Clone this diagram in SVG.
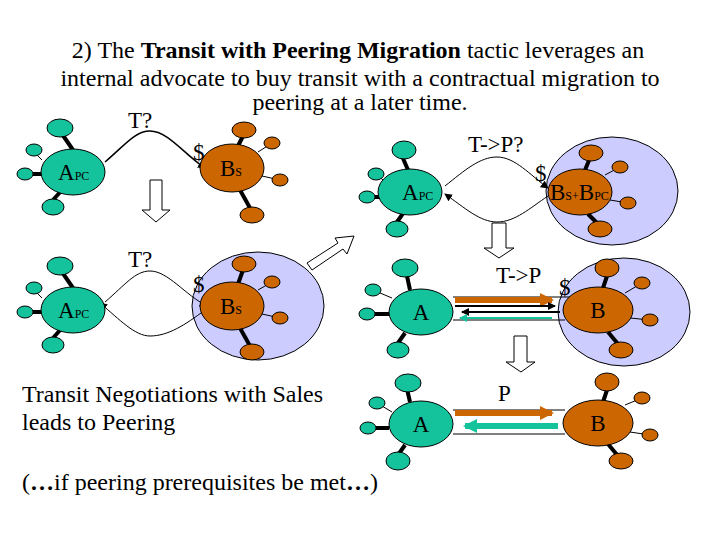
<svg xmlns="http://www.w3.org/2000/svg" width="720" height="540" viewBox="0 0 720 540">
<style>
text{font-family:"Liberation Serif","DejaVu Serif",serif;fill:#000}
.t{font-size:24px}
.g{fill:#14C39C;stroke:#000;stroke-width:1}
.o{fill:#CC6600;stroke:#000;stroke-width:1}
.lav{fill:#CCCCFF;stroke:#000;stroke-width:1}
.k{stroke:#000;stroke-width:4}
.k1{stroke:#000;stroke-width:1}
.c{fill:none;stroke:#000;stroke-width:1}
.ha{fill:#fff;stroke:#000;stroke-width:1}
.lbl{font-size:23px}
.sm{font-size:12px}
</style>
<defs>
<marker id="ah" markerWidth="8" markerHeight="8" refX="7" refY="4" orient="auto" markerUnits="userSpaceOnUse"><path d="M0,0L8,4L0,8z" fill="#000"/></marker>
<marker id="ao" markerWidth="14" markerHeight="14" refX="12" refY="7" orient="auto" markerUnits="userSpaceOnUse"><path d="M0,0L14,7L0,14z" fill="#CC6600"/></marker>
<marker id="ag" markerWidth="14" markerHeight="14" refX="12" refY="7" orient="auto" markerUnits="userSpaceOnUse"><path d="M0,0L14,7L0,14z" fill="#14C39C"/></marker>
<marker id="ag2" markerWidth="8" markerHeight="8" refX="7" refY="4" orient="auto" markerUnits="userSpaceOnUse"><path d="M0,0L8,4L0,8z" fill="#14C39C"/></marker>
</defs>
<rect width="720" height="540" fill="#fff"/>
<g id="title">
<text class="t" x="358" y="58" text-anchor="middle">2)   The <tspan font-weight="bold">Transit with Peering Migration</tspan> tactic leverages an</text>
<text class="t" x="360" y="86" text-anchor="middle">internal advocate to buy transit with a contractual migration to</text>
<text class="t" x="360" y="110" text-anchor="middle">peering at a later time.</text>
</g>
<g id="lavender">
<ellipse class="lav" cx="258" cy="306" rx="66" ry="54"/>
<ellipse class="lav" cx="612" cy="191" rx="66" ry="54"/>
<ellipse class="lav" cx="624" cy="312" rx="66" ry="54"/>
</g>
<g id="connectors">
<path class="c" style="stroke-width:1.5" d="M105,162 C125,145 135,131 150,131 C168,131 185,155 205,168" marker-end="url(#ah)"/>
<path class="c" d="M105,302 C125,285 135,271 150,271 C168,271 185,295 207,306" marker-end="url(#ah)"/>
<path class="c" d="M205,310 C185,325 168,336 150,336 C135,336 120,320 100,303" marker-end="url(#ah)"/>
<path class="c" d="M445,186 C465,170 480,157 497,157 C515,157 530,175 548,188" marker-end="url(#ah)"/>
<path class="c" d="M548,196 C530,208 515,222 497,222 C480,222 465,208 445,194" marker-end="url(#ah)"/>
<line class="k1" x1="453" y1="297" x2="570" y2="297"/>
<line class="k1" x1="453" y1="320" x2="565" y2="320"/>
<line x1="455" y1="300" x2="552" y2="300" stroke="#CC6600" stroke-width="6" marker-end="url(#ao)"/>
<line x1="455" y1="306" x2="555" y2="306" stroke="#000" stroke-width="2" marker-end="url(#ah)"/>
<line x1="560" y1="312" x2="462" y2="312" stroke="#000" stroke-width="2" marker-end="url(#ah)"/>
<line x1="552" y1="318" x2="460" y2="318" stroke="#14C39C" stroke-width="2" marker-end="url(#ag2)"/>
<line class="k1" x1="453" y1="410" x2="565" y2="410"/>
<line class="k1" x1="453" y1="434" x2="565" y2="434"/>
<line x1="455" y1="413" x2="552" y2="413" stroke="#CC6600" stroke-width="6" marker-end="url(#ao)"/>
<line x1="558" y1="426" x2="465" y2="426" stroke="#14C39C" stroke-width="6" marker-end="url(#ag)"/>
</g>
<g id="arrows">
<path class="ha" d="M150,180H162V210H170L156,222L142,210H150Z"/>
<path class="ha" d="M492,223H506V248H514L499,258L484,248H492Z"/>
<path class="ha" d="M514,336H527V362H535L521,372L506,362H514Z"/>
<path class="ha" d="M307,263L338,243L335,238L354,236L347,254L343,249L312,270Z"/>
</g>
<g id="n1">
<line class="k" x1="73" y1="150" x2="62" y2="134"/><line class="k1" x1="42" y1="160" x2="34" y2="152"/><line class="k" x1="33" y1="174" x2="42" y2="174"/><line class="k" x1="53" y1="200" x2="62" y2="190"/>
<ellipse class="g" cx="60" cy="128" rx="13" ry="9"/><ellipse class="g" cx="34" cy="150" rx="8" ry="6"/><ellipse class="g" cx="25" cy="174" rx="8" ry="6"/><ellipse class="g" cx="53" cy="207" rx="11" ry="8"/>
<ellipse class="g" cx="73" cy="172" rx="32" ry="23"/>
<text class="lbl" x="58" y="180">A<tspan class="sm">PC</tspan></text>
</g>
<g id="n2">
<line class="k" x1="238" y1="146" x2="243" y2="136"/><line class="k1" x1="258" y1="152" x2="272" y2="143"/><line class="k1" x1="262" y1="176" x2="280" y2="180"/><line class="k" x1="240" y1="190" x2="250" y2="208"/>
<ellipse class="o" cx="244" cy="130" rx="12" ry="8"/><ellipse class="o" cx="272" cy="143" rx="8" ry="6"/><ellipse class="o" cx="280" cy="180" rx="8" ry="6"/><ellipse class="o" cx="252" cy="215" rx="12" ry="8"/>
<ellipse class="o" cx="232" cy="168" rx="32" ry="24"/>
<text class="lbl" x="220" y="176">B<tspan class="sm">S</tspan></text>
</g>
<g id="n3">
<line class="k" x1="73" y1="288" x2="62" y2="272"/><line class="k1" x1="42" y1="298" x2="34" y2="290"/><line class="k" x1="33" y1="312" x2="42" y2="312"/><line class="k" x1="53" y1="338" x2="62" y2="328"/>
<ellipse class="g" cx="60" cy="266" rx="13" ry="9"/><ellipse class="g" cx="34" cy="288" rx="8" ry="6"/><ellipse class="g" cx="25" cy="312" rx="8" ry="6"/><ellipse class="g" cx="53" cy="345" rx="11" ry="8"/>
<ellipse class="g" cx="73" cy="310" rx="32" ry="23"/>
<text class="lbl" x="58" y="318">A<tspan class="sm">PC</tspan></text>
</g>
<g id="n4">
<line class="k" x1="238" y1="284" x2="243" y2="270"/><line class="k1" x1="258" y1="290" x2="272" y2="282"/><line class="k1" x1="262" y1="314" x2="280" y2="318"/><line class="k" x1="240" y1="328" x2="250" y2="346"/>
<ellipse class="o" cx="244" cy="264" rx="12" ry="8"/><ellipse class="o" cx="272" cy="282" rx="8" ry="6"/><ellipse class="o" cx="280" cy="318" rx="8" ry="6"/><ellipse class="o" cx="252" cy="352" rx="12" ry="8"/>
<ellipse class="o" cx="232" cy="306" rx="32" ry="24"/>
<text class="lbl" x="220" y="314">B<tspan class="sm">S</tspan></text>
</g>
<g id="n5">
<line class="k" x1="408" y1="170" x2="402" y2="156"/><line class="k1" x1="383" y1="180" x2="376" y2="174"/><line class="k" x1="375" y1="197" x2="382" y2="197"/><line class="k" x1="397" y1="222" x2="404" y2="212"/>
<ellipse class="g" cx="404" cy="150" rx="12" ry="9"/><ellipse class="g" cx="376" cy="174" rx="8" ry="6"/><ellipse class="g" cx="367" cy="197" rx="8" ry="6"/><ellipse class="g" cx="397" cy="229" rx="11" ry="8"/>
<ellipse class="g" cx="410" cy="192" rx="32" ry="23"/>
<text class="lbl" x="402" y="200">A<tspan class="sm">PC</tspan></text>
</g>
<g id="n6">
<line class="k" x1="585" y1="170" x2="590" y2="158"/><line class="k1" x1="605" y1="175" x2="620" y2="167"/><line class="k1" x1="610" y1="200" x2="628" y2="203"/><line class="k" x1="588" y1="214" x2="598" y2="224"/>
<ellipse class="o" cx="591" cy="153" rx="12" ry="8"/><ellipse class="o" cx="620" cy="167" rx="8" ry="6"/><ellipse class="o" cx="628" cy="203" rx="8" ry="6"/><ellipse class="o" cx="600" cy="229" rx="12" ry="8"/>
<ellipse class="o" cx="580" cy="192" rx="32" ry="23"/>
<text class="lbl" x="550" y="200">B<tspan class="sm">S+</tspan>B<tspan class="sm">PC</tspan></text>
</g>
<g id="n7">
<line class="k" x1="410" y1="290" x2="407" y2="276"/><line class="k1" x1="392" y1="298" x2="373" y2="290"/><line class="k" x1="375" y1="314" x2="389" y2="314"/><line class="k" x1="398" y1="343" x2="405" y2="333"/>
<ellipse class="g" cx="405" cy="268" rx="13" ry="9"/><ellipse class="g" cx="373" cy="290" rx="8" ry="6"/><ellipse class="g" cx="367" cy="314" rx="8" ry="6"/><ellipse class="g" cx="398" cy="350" rx="11" ry="8"/>
<ellipse class="g" cx="421" cy="312" rx="32" ry="23"/>
<text class="lbl" x="421" y="320" text-anchor="middle">A</text>
</g>
<g id="n8">
<line class="k" x1="603" y1="288" x2="607" y2="276"/><line class="k1" x1="625" y1="293" x2="642" y2="283"/><line class="k1" x1="630" y1="318" x2="650" y2="320"/><line class="k" x1="608" y1="332" x2="618" y2="344"/>
<ellipse class="o" cx="607" cy="268" rx="12" ry="9"/><ellipse class="o" cx="642" cy="283" rx="8" ry="6"/><ellipse class="o" cx="650" cy="320" rx="8" ry="6"/><ellipse class="o" cx="621" cy="350" rx="12" ry="8"/>
<ellipse class="o" cx="598" cy="310" rx="35" ry="23"/>
<text class="lbl" x="598" y="318" text-anchor="middle">B</text>
</g>
<g id="n9">
<line class="k" x1="410" y1="402" x2="407" y2="389"/><line class="k1" x1="392" y1="412" x2="377" y2="403"/><line class="k" x1="376" y1="428" x2="389" y2="428"/><line class="k" x1="398" y1="455" x2="405" y2="445"/>
<ellipse class="g" cx="408" cy="383" rx="13" ry="9"/><ellipse class="g" cx="377" cy="403" rx="8" ry="6"/><ellipse class="g" cx="368" cy="428" rx="8" ry="6"/><ellipse class="g" cx="398" cy="461" rx="12" ry="9"/>
<ellipse class="g" cx="421" cy="424" rx="32" ry="23"/>
<text class="lbl" x="421" y="432" text-anchor="middle">A</text>
</g>
<g id="n10">
<line class="k" x1="603" y1="402" x2="607" y2="390"/><line class="k1" x1="625" y1="405" x2="642" y2="398"/><line class="k1" x1="630" y1="432" x2="650" y2="435"/><line class="k" x1="608" y1="444" x2="618" y2="456"/>
<ellipse class="o" cx="607" cy="382" rx="12" ry="9"/><ellipse class="o" cx="642" cy="398" rx="8" ry="6"/><ellipse class="o" cx="650" cy="435" rx="8" ry="6"/><ellipse class="o" cx="621" cy="461" rx="12" ry="8"/>
<ellipse class="o" cx="598" cy="423" rx="35" ry="23"/>
<text class="lbl" x="598" y="431" text-anchor="middle">B</text>
</g>
<g id="labels">
<text class="lbl" x="128" y="128">T?</text>
<text class="lbl" x="193" y="160">$</text>
<text class="lbl" x="128" y="267">T?</text>
<text class="lbl" x="193" y="292">$</text>
<text class="lbl" x="468" y="152">T-&gt;P?</text>
<text class="lbl" x="535" y="181">$</text>
<text class="lbl" x="496" y="283">T-&gt;P</text>
<text class="lbl" x="559" y="295">$</text>
<text class="lbl" x="498" y="401">P</text>
<text class="t" x="22" y="402">Transit Negotiations with Sales</text>
<text class="t" x="22" y="430">leads to Peering</text>
<text class="t" x="22" y="490">(<tspan font-weight="bold">…</tspan>if peering prerequisites be met<tspan font-weight="bold">…</tspan>)</text>
</g>
</svg>
